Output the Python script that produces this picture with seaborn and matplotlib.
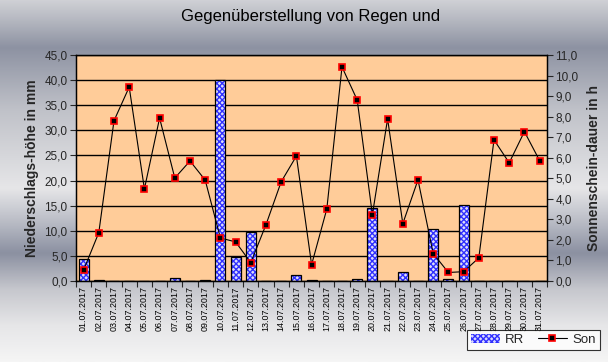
import numpy as np
import pandas as pd
import seaborn as sns
import matplotlib.pyplot as plt
from matplotlib.colors import LinearSegmentedColormap
from matplotlib.lines import Line2D
from matplotlib.patches import Patch
from matplotlib.ticker import FuncFormatter

# Daten Juli 2007
tage = [f"{d:02d}.07.2017" for d in range(1, 32)]
rr = [4.4, 0.1, 0.0, 0.0, 0.0, 0.0, 0.5, 0.0, 0.1, 40.0,
      4.8, 9.8, 0.0, 0.0, 1.1, 0.1, 0.0, 0.0, 0.3, 14.5,
      0.0, 1.7, 0.0, 10.3, 0.4, 15.1, 0.0, 0.0, 0.0, 0.0, 0.0]
son = [0.53, 2.35, 7.8, 9.44, 4.48, 7.93, 5.01, 5.84, 4.91, 2.09,
       1.9, 0.89, 2.74, 4.83, 6.08, 0.79, 3.5, 10.42, 8.81, 3.23,
       7.89, 2.79, 4.92, 1.33, 0.41, 0.45, 1.12, 6.87, 5.75, 7.27, 5.86]

df = pd.DataFrame({"Tag": tage, "RR": rr, "Son": son})

sns.set_style("white")
plt.rcParams["font.family"] = ["Liberation Sans", "DejaVu Sans"]
plt.rcParams["hatch.linewidth"] = 1.0

fig = plt.figure(figsize=(6.08, 3.62), dpi=100)

# Hintergrund mit Farbverlauf
bg = fig.add_axes([0, 0, 1, 1], zorder=-10)
cmap = LinearSegmentedColormap.from_list("bg", [
    (0.0, "#cfd0d5"), (0.06, "#b2b5be"), (0.13, "#8d92a2"), (0.30, "#bfc1c8"),
    (0.52, "#e6e6e8"), (0.62, "#b6b9c3"), (0.70, "#8b90a1"), (0.80, "#c6c7cd"),
    (0.90, "#e6e6e8"), (1.0, "#f5f5f5")])
bg.imshow(np.linspace(0, 1, 256).reshape(-1, 1), aspect="auto", cmap=cmap,
          extent=[0, 1, 1, 0])
bg.set_axis_off()

ax = fig.add_axes([0.125, 0.224, 0.775, 0.624])
ax.set_facecolor("#ffcc99")

# Balken: blau kariert + schwarzer Rand
sns.barplot(data=df, x="Tag", y="RR", ax=ax, color="#d8d8ff", width=0.65,
            edgecolor="#3030ff", linewidth=0, hatch="xxxxxx", zorder=2)
sns.barplot(data=df, x="Tag", y="RR", ax=ax, fill=False, width=0.65,
            edgecolor="black", linewidth=0.9, zorder=3)

ax.set_ylim(0, 45)
ax.set_yticks(np.arange(0, 46, 5))
ax.yaxis.grid(True, color="black", linewidth=1)
ax.set_axisbelow(True)
komma = FuncFormatter(lambda v, p: f"{v:.1f}".replace(".", ","))
ax.yaxis.set_major_formatter(komma)
ax.set_xlim(-0.5, 30.5)
ax.set_xlabel("")
ax.set_ylabel("Niederschlags-höhe in mm", fontsize=10, fontweight="bold", labelpad=4)
ax.tick_params(axis="x", which="major", length=0, labelsize=6.4, rotation=90, pad=4,
               labelcolor="black")
ax.set_xticks(np.arange(-0.5, 31, 1), minor=True)
ax.tick_params(axis="x", which="minor", length=4, width=0.8, direction="out", bottom=True)
ax.tick_params(axis="y", length=4, width=0.8, direction="out", left=True, labelsize=8.5, pad=2)

ax2 = ax.twinx()
sns.lineplot(x=np.arange(31), y=df["Son"], ax=ax2, color="black", linewidth=0.8,
             marker="s", markersize=5, markerfacecolor="black",
             markeredgecolor="red", markeredgewidth=1.2, zorder=5)
ax2.set_ylim(0, 11)
ax2.set_yticks(np.arange(0, 12, 1))
ax2.yaxis.set_major_formatter(komma)
ax2.set_ylabel("Sonnenschein-dauer in h", fontsize=10, fontweight="bold", labelpad=6)
ax2.tick_params(axis="y", length=4, width=0.8, direction="out", right=True, labelsize=8.5, pad=2)
ax2.set_xlim(-0.5, 30.5)

for a in (ax, ax2):
    for s in a.spines.values():
        s.set_color("black")
        s.set_linewidth(0.9)

fig.text(0.51, 0.955, "Gegenüberstellung von Regen und", ha="center", va="center",
         fontsize=12, color="black")

handles = [Patch(facecolor="#d8d8ff", edgecolor="#3030ff", hatch="xxxxxx", linewidth=0),
           Line2D([0], [0], color="black", linewidth=0.8, marker="s", markersize=5,
                  markerfacecolor="black", markeredgecolor="red", markeredgewidth=1.2)]
leg = fig.legend(handles, ["RR", "Son"], loc="lower right", bbox_to_anchor=(0.997, 0.015),
                 ncol=2, frameon=True, fancybox=False, fontsize=9.5, handlelength=2.2,
                 borderpad=0.3, columnspacing=1.0, handletextpad=0.4)
leg.get_frame().set_edgecolor("black")
leg.get_frame().set_linewidth(0.8)

fig.savefig("out.png", dpi=100)
